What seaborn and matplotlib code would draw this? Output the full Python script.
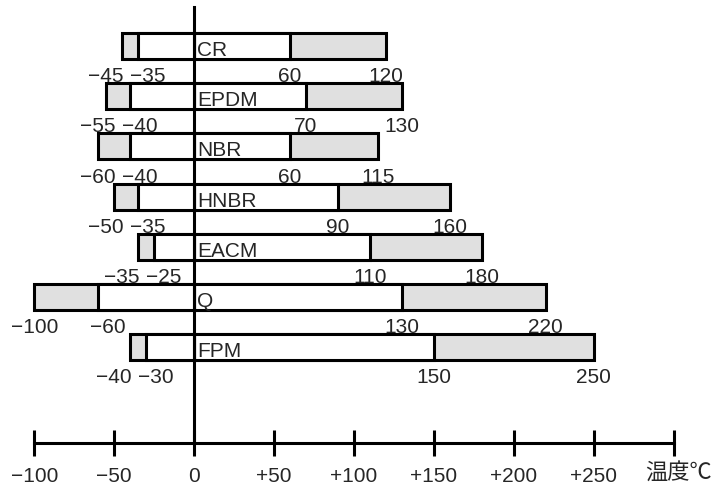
import pandas as pd
import matplotlib
matplotlib.use('Agg')
import matplotlib.pyplot as plt
import matplotlib.transforms as mtransforms
import seaborn as sns

# operating temperature ranges of rubber materials (deg C)
materials = ['CR', 'EPDM', 'NBR', 'HNBR', 'EACM', 'Q', 'FPM']
outer_min = [-45, -55, -60, -50, -35, -100, -40]
inner_min = [-35, -40, -40, -35, -25, -60, -30]
inner_max = [60, 70, 60, 90, 110, 130, 150]
outer_max = [120, 130, 115, 160, 180, 220, 250]

axis_ticks = [-100, -50, 0, 50, 100, 150, 200, 250, 300]
axis_labels = ['−100', '−50', '0', '+50', '+100', '+150', '+200', '+250', '温度℃']

df = pd.DataFrame({'material': materials, 'outer_min': outer_min, 'inner_min': inner_min,
                   'inner_max': inner_max, 'outer_max': outer_max})

sns.set_theme(style='white')
plt.rcParams['font.family'] = ['Liberation Sans', 'Noto Sans CJK JP']

fig = plt.figure(figsize=(7.24, 4.86), dpi=100)
ax = fig.add_axes([0, 0, 1, 1])

gray = '#e0e0e0'
lw = 2.2
bar_w = 0.52
# gray outer ranges first, white inner ranges on top
for col, c in [('outer_max', gray), ('inner_max', 'white'),
               ('outer_min', gray), ('inner_min', 'white')]:
    sns.barplot(data=df, x=col, y='material', order=materials, orient='h',
                color=c, saturation=1, edgecolor='black', linewidth=lw,
                width=bar_w, errorbar=None, ax=ax)

fs = 15
def fmt(v):
    return str(v).replace('-', '−')

for i, row in df.iterrows():
    ax.text(2, i + 0.2, row['material'], ha='left', va='baseline', fontsize=fs)
    yb = i + 0.72
    x_in = row['inner_min'] + 6
    x_out = min(row['outer_min'], x_in - 26)  # keep the pair from overlapping
    ax.text(x_out, yb, fmt(row['outer_min']), ha='center', va='baseline', fontsize=fs)
    ax.text(x_in, yb, fmt(row['inner_min']), ha='center', va='baseline', fontsize=fs)
    ax.text(row['inner_max'], yb, fmt(row['inner_max']), ha='center', va='baseline', fontsize=fs)
    ax.text(row['outer_max'], yb, fmt(row['outer_max']), ha='center', va='baseline', fontsize=fs)

ax.set_xlim(-121.4, 331.5)
ax.set_ylim(8.768, -0.917)
ax.set_xlabel('')
ax.set_ylabel('')

for s in ['top', 'right']:
    ax.spines[s].set_visible(False)
ax.spines['bottom'].set_position(('data', 7.911))
ax.spines['bottom'].set_bounds(-100, 300)
ax.spines['left'].set_position(('data', 0))
ax.spines['left'].set_bounds(-0.777, 7.911)
for s in ['bottom', 'left']:
    ax.spines[s].set_color('black')
    ax.spines[s].set_linewidth(lw)

ax.set_xticks(axis_ticks)
ax.set_xticklabels(axis_labels, fontsize=fs)
ax.tick_params(axis='x', direction='inout', length=18.7, width=lw, color='black', pad=8, bottom=True)
ax.tick_params(axis='y', length=0, left=False, labelleft=False)

# unit label sits a little right of / higher than the last tick
unit = ax.get_xticklabels()[-1]
unit.set_fontsize(16)
unit.set_transform(unit.get_transform() +
                   mtransforms.ScaledTranslation(5 / 100, 4 / 100, fig.dpi_scale_trans))

ax.set_facecolor('white')
fig.patch.set_facecolor('white')

fig.savefig('out.png', dpi=100, facecolor='white')
